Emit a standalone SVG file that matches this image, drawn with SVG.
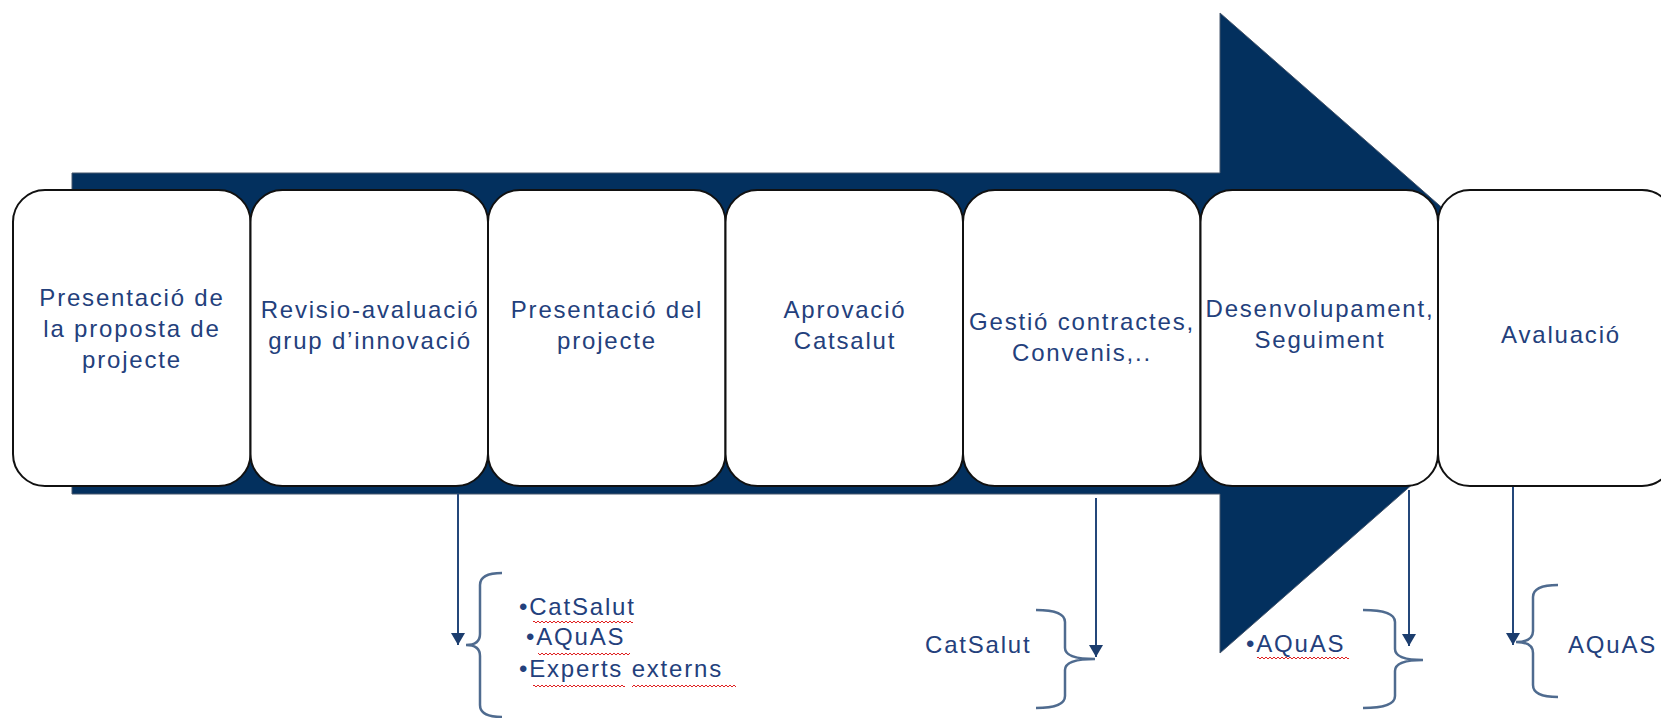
<svg xmlns="http://www.w3.org/2000/svg" width="1661" height="718" viewBox="0 0 1661 718">
<style>
.box{fill:#fff;stroke:#111;stroke-width:2}
.t{font-family:"Liberation Sans",Arial,sans-serif;font-size:24px;letter-spacing:1.8px;fill:#23407c;text-anchor:middle}
.l{font-family:"Liberation Sans",Arial,sans-serif;font-size:24px;letter-spacing:1.8px;fill:#23407c}
.c{stroke:#24477a;stroke-width:2;fill:none}
.br{stroke:#4f6b8f;stroke-width:2.5;fill:none}
.sq{fill:url(#wave)}
</style>
<defs>
<marker id="ah" markerUnits="userSpaceOnUse" markerWidth="14" markerHeight="14" refX="12" refY="7" orient="auto"><path d="M0,0 L12,7 L0,14 z" fill="#1c3d6e"/></marker>
<pattern id="wave" patternUnits="userSpaceOnUse" x="0" y="0" width="4" height="4"><path d="M0,3 L2,1 L4,3" stroke="#e02020" stroke-width="1" fill="none"/></pattern>
</defs>
<g id="arrow"><path d="M72,173 H1220 V13 L1585,333 L1220,653 V494 H72 Z" fill="#03305e" stroke="#46566c" stroke-width="1"/></g>
<g id="n1"><rect class="box" x="13" y="190" width="237.5" height="296" rx="32"/><text class="t" x="132" y="306">Presentació de</text><text class="t" x="132" y="337">la proposta de</text><text class="t" x="132" y="368">projecte</text></g>
<g id="n2"><rect class="box" x="250.5" y="190" width="237.5" height="296" rx="32"/><text class="t" x="370" y="318">Revisio-avaluació</text><text class="t" x="370" y="349">grup d’innovació</text></g>
<g id="n3"><rect class="box" x="488" y="190" width="237.5" height="296" rx="32"/><text class="t" x="607" y="318">Presentació del</text><text class="t" x="607" y="349">projecte</text></g>
<g id="n4"><rect class="box" x="725.5" y="190" width="237.5" height="296" rx="32"/><text class="t" x="845" y="318">Aprovació</text><text class="t" x="845" y="349">Catsalut</text></g>
<g id="n5"><rect class="box" x="963" y="190" width="237.5" height="296" rx="32"/><text class="t" x="1082" y="330">Gestió contractes,</text><text class="t" x="1082" y="361">Convenis,..</text></g>
<g id="n6"><rect class="box" x="1200.5" y="190" width="237.5" height="296" rx="32"/><text class="t" x="1320" y="317">Desenvolupament,</text><text class="t" x="1320" y="348">Seguiment</text></g>
<g id="n7"><rect class="box" x="1438" y="190" width="236" height="296" rx="32"/><text class="t" x="1561" y="343">Avaluació</text></g>
<g id="connectors">
<line class="c" x1="458" y1="494" x2="458" y2="645" marker-end="url(#ah)"/>
<line class="c" x1="1096" y1="498" x2="1096" y2="657" marker-end="url(#ah)"/>
<line class="c" x1="1409" y1="490" x2="1409" y2="646" marker-end="url(#ah)"/>
<line class="c" x1="1513" y1="487" x2="1513" y2="645" marker-end="url(#ah)"/>
</g>
<g id="braces">
<path class="br" d="M502,573 Q480,573 480,585 L480,634 Q480,645 466,645 Q480,645 480,656 L480,705 Q480,717 502,717"/>
<path class="br" d="M1036,610 Q1065,610 1065,622 L1065,648 Q1065,659 1095,659 Q1065,659 1065,670 L1065,696 Q1065,708 1036,708"/>
<path class="br" d="M1363,610 Q1395,610 1395,622 L1395,649 Q1395,660 1423,660 Q1395,660 1395,671 L1395,696 Q1395,708 1363,708"/>
<path class="br" d="M1558,585 Q1533,585 1533,597 L1533,631 Q1533,642 1516,642 Q1533,642 1533,653 L1533,685 Q1533,697 1558,697"/>
</g>
<g id="labels">
<text class="l" x="519" y="615">•CatSalut</text>
<text class="l" x="526" y="645">•AQuAS</text>
<text class="l" x="519" y="677">•Experts externs</text>
<text class="l" x="925" y="653">CatSalut</text>
<text class="l" x="1246" y="652">•AQuAS</text>
<text class="l" x="1568" y="653">AQuAS</text>
<rect class="sq" x="533" y="620" width="100" height="4"/>
<rect class="sq" x="538" y="652" width="92" height="4"/>
<rect class="sq" x="533" y="684" width="92" height="4"/>
<rect class="sq" x="632" y="684" width="104" height="4"/>
<rect class="sq" x="1257" y="656" width="92" height="4"/>
</g>
</svg>
